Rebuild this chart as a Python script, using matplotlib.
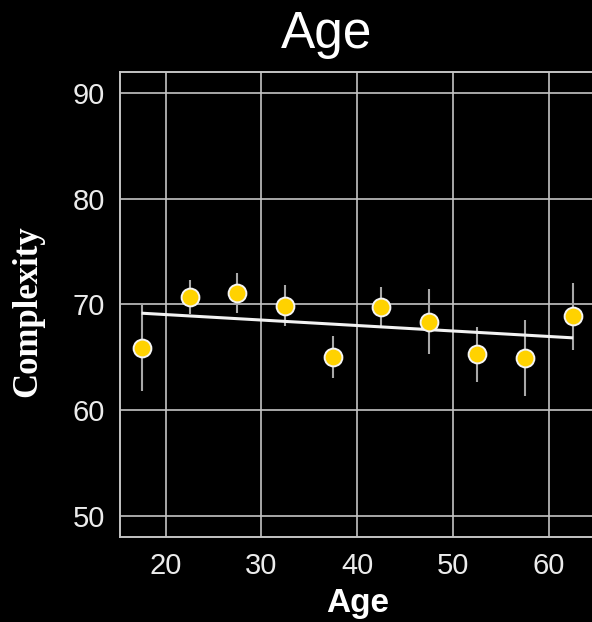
import matplotlib
matplotlib.use("Agg")
import matplotlib.pyplot as plt

# Mean complexity by age group, with error half-widths
age_groups = [17.5, 22.5, 27.5, 32.5, 37.5, 42.5, 47.5, 52.5, 57.5, 62.5]
complexity = [65.86, 70.68, 71.09, 69.89, 65.04, 69.76, 68.35, 65.30, 64.95, 68.88]
error = [4.05, 1.62, 1.90, 1.93, 2.00, 1.85, 3.07, 2.60, 3.60, 3.17]

# Fitted trend line endpoints
trend_x = [17.5, 62.5]
trend_y = [69.17, 66.84]

x_ticks = [20, 30, 40, 50, 60]
y_ticks = [50, 60, 70, 80, 90]

W, H = 592, 622
fig = plt.figure(figsize=(W / 100, H / 100), dpi=100, facecolor="black")

left_px, right_px = 120, 594.7
top_px, bottom_px = 71.8, 536.8
ax = fig.add_axes([left_px / W, 1 - bottom_px / H,
                   (right_px - left_px) / W, (bottom_px - top_px) / H])
ax.set_facecolor("black")

grid_col = "#c4c4c4"
ax.grid(True, color=grid_col, linewidth=1.2, zorder=0)
ax.set_axisbelow(True)
for name, sp in ax.spines.items():
    sp.set_color(grid_col)
    sp.set_linewidth(1.4)
ax.spines["right"].set_visible(False)

ax.set_xlim(15.25, 64.75)
ax.set_ylim(48.05, 91.97)
ax.set_xticks(x_ticks)
ax.set_yticks(y_ticks)
ax.tick_params(axis="both", length=0, labelsize=21, labelcolor="#ececec")
ax.tick_params(axis="y", pad=11)
ax.tick_params(axis="x", pad=11)
for lab in ax.get_xticklabels() + ax.get_yticklabels():
    lab.set_family("Liberation Sans")

ax.errorbar(age_groups, complexity, yerr=error, fmt="none",
            ecolor="#a8a8a8", elinewidth=1.5, capsize=0, zorder=2)
ax.plot(trend_x, trend_y, color="#f2f2f2", linewidth=2.2, zorder=3,
        solid_capstyle="butt")
ax.plot(age_groups, complexity, linestyle="none", marker="o",
        markersize=12.8, markerfacecolor="#FFD200",
        markeredgecolor="#f4f4f4", markeredgewidth=1.4, zorder=4)

ax.set_xlabel("Age", family="Liberation Sans", fontsize=24,
              fontweight="bold", color="white", labelpad=6)

fig.text(28 / W, 1 - 311 / H, "Complexity", rotation=90, ha="center",
         va="center", family="Liberation Serif", fontweight="bold",
         fontsize=25, color="white")

fig.text(327 / W, 1 - 48 / H, "Age", ha="center", va="baseline",
         family="Liberation Sans", fontsize=37, color="white")

fig.savefig("out.png", dpi=100, facecolor="black")
